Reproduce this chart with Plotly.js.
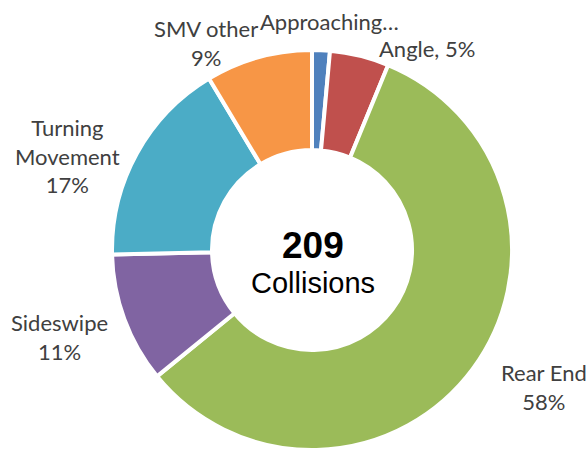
<!DOCTYPE html>
<html>
<head>
<meta charset="utf-8">
<script src="https://cdn.plot.ly/plotly-3.0.1.min.js"></script>
<style>html,body{margin:0;padding:0;background:#fff;}#chart{width:588px;height:450px;}</style>
</head>
<body>
<div id="chart"></div>
<script>
// Data (clockwise from 12 o'clock)
const categories = ['Approaching…', 'Angle', 'Rear End', 'Sideswipe', 'Turning Movement', 'SMV other'];
const collisions = [3, 10, 121, 22, 35, 18];
const colors = ['#4F81BD', '#C0504D', '#9BBB59', '#8064A2', '#4BACC6', '#F79646'];
const centerSubtitle = 'Collisions';

// Label text formats and pixel anchors (layout only)
const labelLayout = [
  {fmt: (n, p) => n, x: 329, y: 22},
  {fmt: (n, p) => n + ', ' + p, x: 427, y: 48},
  {fmt: (n, p) => n + '<br>' + p, x: 544, y: 387},
  {fmt: (n, p) => n + '<br>' + p, x: 59, y: 337},
  {fmt: (n, p) => 'Turning<br>Movement<br>' + p, x: 67, y: 156},
  {fmt: (n, p) => n + '<br>' + p, x: 206, y: 43}
];

const W = 588, H = 450;
const total = collisions.reduce((a, b) => a + b, 0);

const annotations = categories.map((c, i) => {
  const pct = Math.round(collisions[i] / total * 100) + '%';
  const L = labelLayout[i];
  return {
    text: L.fmt(c, pct), x: L.x / W, y: 1 - L.y / H, xref: 'paper', yref: 'paper',
    showarrow: false, xanchor: 'center', yanchor: 'middle', align: 'center',
    font: {family: 'Lato, "Noto Sans", sans-serif', size: 22, color: '#404040'}
  };
});
annotations.push({
  text: '<b>' + total + '</b>', x: 313 / W, y: 1 - 246 / H, xref: 'paper', yref: 'paper',
  showarrow: false, xanchor: 'center', yanchor: 'middle',
  font: {family: '"Liberation Sans", Arial, sans-serif', size: 37, color: '#000'}
});
annotations.push({
  text: centerSubtitle, x: 313 / W, y: 1 - 283 / H, xref: 'paper', yref: 'paper',
  showarrow: false, xanchor: 'center', yanchor: 'middle',
  font: {family: '"Liberation Sans", Arial, sans-serif', size: 29, color: '#000'}
});

Plotly.newPlot('chart', [{
  type: 'pie',
  labels: categories,
  values: collisions,
  sort: false,
  direction: 'clockwise',
  rotation: 0,
  hole: 0.5,
  textinfo: 'none',
  hoverinfo: 'label+value+percent',
  marker: {colors: colors, line: {color: '#ffffff', width: 4}},
  domain: {x: [112 / W, 512 / W], y: [0, 400 / H]},
  showlegend: false
}], {
  width: W, height: H,
  margin: {l: 0, r: 0, t: 0, b: 0},
  paper_bgcolor: '#ffffff',
  showlegend: false,
  annotations: annotations
}, {displayModeBar: false, staticPlot: true});
</script>
</body>
</html>
